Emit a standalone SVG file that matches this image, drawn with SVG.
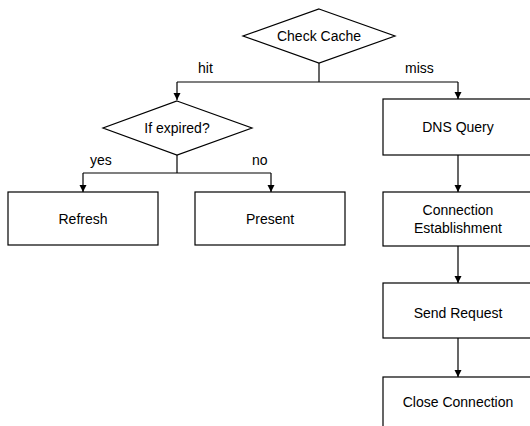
<svg xmlns="http://www.w3.org/2000/svg" width="530" height="426" viewBox="0 0 530 426">
  <style>
    .shape { fill: #ffffff; stroke: #000000; stroke-width: 1.2; }
    .edge { fill: none; stroke: #000000; stroke-width: 1.2; }
    text { font-family: "Liberation Sans", Arial, sans-serif; font-size: 14px; fill: #000000; }
    .c { text-anchor: middle; }
  </style>
  <defs>
    <marker id="arrow" viewBox="0 0 10 10" refX="10" refY="5" markerWidth="7" markerHeight="8" markerUnits="userSpaceOnUse" orient="auto">
      <path d="M0,0 L10,5 L0,10 Z" fill="#000000"/>
    </marker>
  </defs>
  <rect width="530" height="426" fill="#ffffff"/>

  <!-- connectors -->
  <g id="connectors">
    <path class="edge" d="M319,63 V82"/>
    <path class="edge" d="M177,82 H458"/>
    <path class="edge" d="M177,82 V100" marker-end="url(#arrow)"/>
    <path class="edge" d="M458,82 V99" marker-end="url(#arrow)"/>
    <path class="edge" d="M177,155 V173"/>
    <path class="edge" d="M83,173 H271"/>
    <path class="edge" d="M83,173 V192" marker-end="url(#arrow)"/>
    <path class="edge" d="M271,173 V192" marker-end="url(#arrow)"/>
    <path class="edge" d="M458,155 V192" marker-end="url(#arrow)"/>
    <path class="edge" d="M458,246 V283" marker-end="url(#arrow)"/>
    <path class="edge" d="M458,338 V377" marker-end="url(#arrow)"/>
    <text x="198" y="73">hit</text>
    <text x="405" y="73">miss</text>
    <text x="90" y="165">yes</text>
    <text x="252" y="165">no</text>
  </g>

  <!-- nodes -->
  <g id="check-cache">
    <polygon class="shape" points="319,9 395,36 319,63 243,36"/>
    <text class="c" x="319" y="41">Check Cache</text>
  </g>
  <g id="if-expired">
    <polygon class="shape" points="177,101 252,128 177,155 103,128"/>
    <text class="c" x="177" y="133">If expired?</text>
  </g>
  <g id="refresh">
    <rect class="shape" x="8" y="192" width="150" height="53"/>
    <text class="c" x="83" y="224">Refresh</text>
  </g>
  <g id="present">
    <rect class="shape" x="195" y="192" width="150" height="53"/>
    <text class="c" x="270" y="224">Present</text>
  </g>
  <g id="dns-query">
    <rect class="shape" x="383" y="99" width="152" height="56"/>
    <text class="c" x="458" y="132">DNS Query</text>
  </g>
  <g id="connection-establishment">
    <rect class="shape" x="383" y="192" width="152" height="54"/>
    <text class="c" x="458" y="215">Connection</text>
    <text class="c" x="458" y="233">Establishment</text>
  </g>
  <g id="send-request">
    <rect class="shape" x="383" y="283" width="152" height="55"/>
    <text class="c" x="458" y="318">Send Request</text>
  </g>
  <g id="close-connection">
    <rect class="shape" x="383" y="377" width="152" height="56"/>
    <text class="c" x="458" y="407">Close Connection</text>
  </g>
</svg>
